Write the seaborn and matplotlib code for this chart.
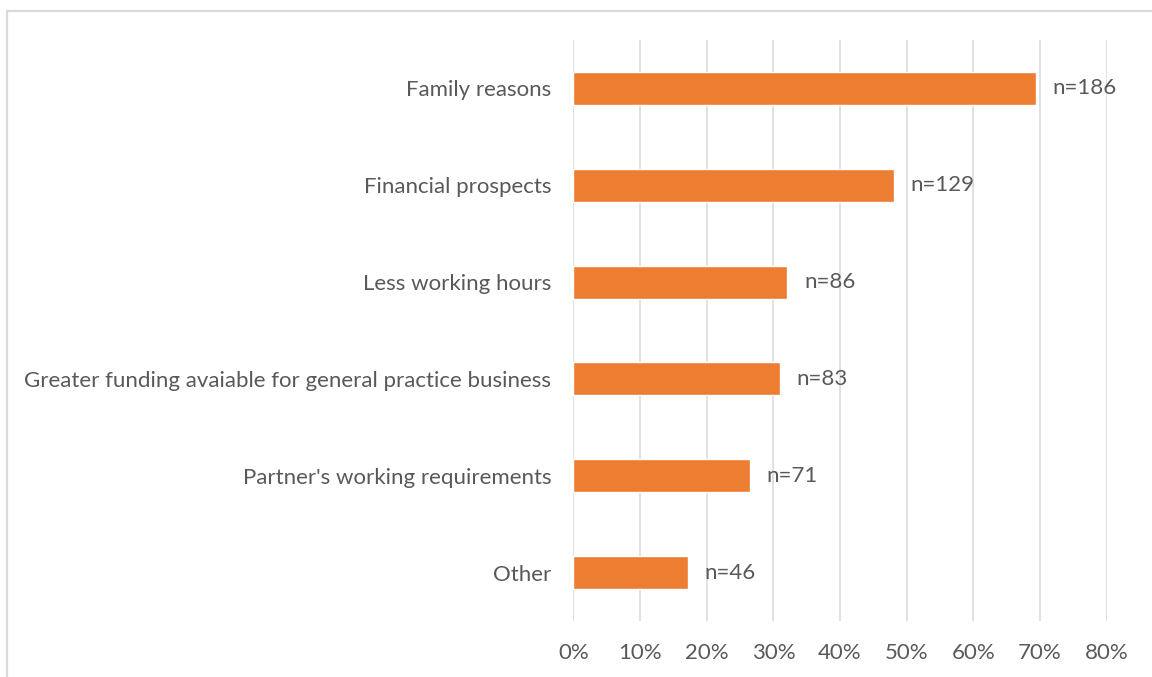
import matplotlib
matplotlib.use("Agg")
import matplotlib.pyplot as plt
from matplotlib.lines import Line2D
from matplotlib.ticker import FuncFormatter
import pandas as pd
import seaborn as sns

# Reasons for choosing to work in general practice
reasons = [
    "Family reasons",
    "Financial prospects",
    "Less working hours",
    "Greater funding avaiable for general practice business",
    "Partner's working requirements",
    "Other",
]
percent = [69.4, 48.1, 32.1, 31.0, 26.5, 17.2]
counts = [186, 129, 86, 83, 71, 46]
x_ticks = [0, 10, 20, 30, 40, 50, 60, 70, 80]

df = pd.DataFrame({"reason": reasons, "percent": percent, "n": counts})

sns.set_theme(style="white")
plt.rcParams["font.family"] = ["Lato", "DejaVu Sans"]

text_color = "#595959"
grid_color = "#d9d9d9"
bar_color = "#ED7D31"
fs = 16

fig = plt.figure(figsize=(11.52, 6.77), dpi=100)
ax = fig.add_axes([0.4977, 0.0827, 0.9607 - 0.4977, 0.9409 - 0.0827])

sns.barplot(data=df, x="percent", y="reason", order=reasons, orient="h",
            color=bar_color, saturation=1, width=0.34, ax=ax, zorder=3)

ax.set_xlim(0, 80)
ax.set_ylim(len(reasons) - 0.5, -0.5)
ax.set_xticks(x_ticks)
ax.xaxis.set_major_formatter(FuncFormatter(lambda v, _: f"{v:.0f}%"))
ax.grid(axis="x", color=grid_color, linewidth=1.1, zorder=0)
ax.grid(axis="y", visible=False)
for s in ax.spines.values():
    s.set_visible(False)
ax.set_xlabel("")
ax.set_ylabel("")
ax.tick_params(axis="both", length=0, labelsize=fs, colors=text_color)
ax.tick_params(axis="y", pad=16)
ax.tick_params(axis="x", pad=16)

# Count labels at the end of each bar
for i, (p, n) in enumerate(zip(percent, counts)):
    ax.annotate(f"n={n}", xy=(p, i), xytext=(12, 0), textcoords="offset points",
                ha="left", va="center", fontsize=fs, color=text_color)

# Chart area border (top and left edges)
fig.add_artist(Line2D([6.5 / 1152, 1.0], [1 - 11 / 677, 1 - 11 / 677],
                      transform=fig.transFigure, color=grid_color, linewidth=1.6))
fig.add_artist(Line2D([6.5 / 1152, 6.5 / 1152], [0.0, 1 - 11 / 677],
                      transform=fig.transFigure, color=grid_color, linewidth=1.6))

fig.savefig("out.png", dpi=100, facecolor="white")
